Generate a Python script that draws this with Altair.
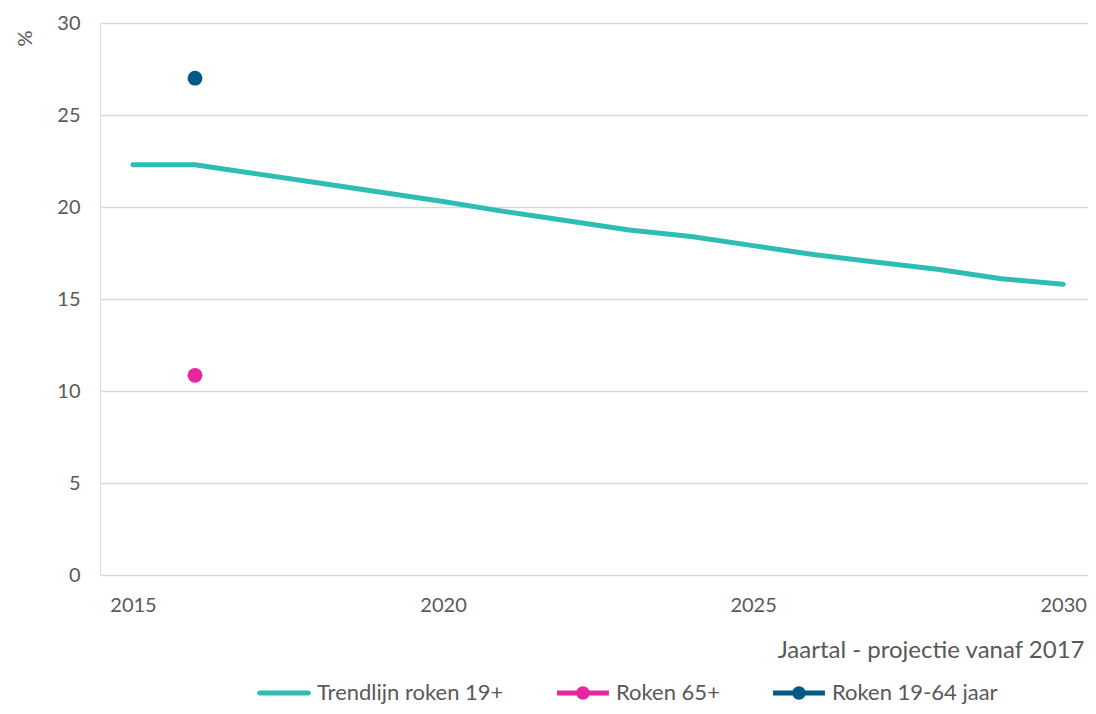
import altair as alt
import pandas as pd

years = list(range(2015, 2031))
trend = [22.3, 22.3, 21.8, 21.3, 20.8, 20.3, 19.75, 19.25, 18.75, 18.4,
         17.9, 17.4, 17.0, 16.6, 16.1, 15.8]

point_years = [2016, 2016]
point_series = ["Roken 65+", "Roken 19-64 jaar"]
point_values = [10.85, 27.0]

series_names = ["Trendlijn roken 19+", "Roken 65+", "Roken 19-64 jaar"]
series_colors = ["#2EBDB2", "#E6259F", "#005A85"]

line_path = "M-0.9,-0.095 H0.9 A0.095,0.095 0 0 1 0.9,0.095 H-0.9 A0.095,0.095 0 0 1 -0.9,-0.095 Z"
dot_path = ("M-0.96,-0.095 H0.96 V0.095 H-0.96 Z "
            "M-0.25,0 A0.25,0.25 0 1 1 0.25,0 A0.25,0.25 0 1 1 -0.25,0 Z")
series_shapes = [line_path, dot_path, dot_path]

FONT = "Lato"
GREY = "#595959"

trend_df = pd.DataFrame({"year": years, "value": trend, "series": series_names[0]})
pts_df = pd.DataFrame({"year": point_years, "value": point_values, "series": point_series})

x = alt.X("year:Q",
          scale=alt.Scale(domain=[2014.468, 2030.40], nice=False, zero=False),
          axis=alt.Axis(values=[2015, 2020, 2025, 2030], format="d", grid=False,
                        ticks=False, tickSize=0, domain=False, labelPadding=20,
                        labelFont=FONT, labelFontSize=20, labelColor=GREY,
                        title="Jaartal - projectie vanaf 2017", titleFont=FONT,
                        titleFontSize=24, titleFontWeight="normal", titleColor=GREY,
                        titleAnchor="end", titleAlign="right", titleBaseline="middle",
                        titleX=984, titleY=75))
y = alt.Y("value:Q",
          scale=alt.Scale(domain=[0, 30], nice=False),
          axis=alt.Axis(values=[0, 5, 10, 15, 20, 25, 30], grid=True, gridColor="#D9D9D9",
                        gridWidth=1.3, ticks=False, tickSize=0, domain=False,
                        labelPadding=20, labelFont=FONT, labelFontSize=20, labelColor=GREY,
                        title="%", titleFont=FONT, titleFontSize=20,
                        titleFontWeight="normal", titleColor=GREY, titleAngle=-90,
                        titleAlign="center", titleBaseline="middle",
                        titleX=-75, titleY=15))

line = alt.Chart(trend_df).mark_line(strokeWidth=5, strokeCap="round",
                                     strokeJoin="round", color=series_colors[0]).encode(x=x, y=y)

dot_layers = []
for name, col in zip(series_names[1:], series_colors[1:]):
    dot_layers.append(
        alt.Chart(pts_df).transform_filter(alt.datum.series == name).mark_point(
            filled=True, shape="circle", size=220, opacity=1, strokeWidth=0, color=col
        ).encode(x=x, y=y))

legend_layer = alt.Chart(pts_df).transform_filter(alt.datum.value < 0).mark_point(
    filled=True).encode(
    x=x, y=y,
    color=alt.Color("series:N", scale=alt.Scale(domain=series_names, range=series_colors),
                    title=None),
    shape=alt.Shape("series:N", scale=alt.Scale(domain=series_names, range=series_shapes),
                    title=None))

chart = alt.layer(line, *dot_layers, legend_layer).properties(
    width=988, height=552,
    autosize=alt.AutoSizeParams(type="none"),
    padding={"left": 92, "top": 15, "right": 0, "bottom": 131},
).configure_view(stroke=None).configure(background="white").configure_legend(
    orient="none", direction="horizontal", columns=3,
    legendX=156, legendY=642,
    symbolSize=2916, symbolOpacity=1,
    labelFont=FONT, labelFontSize=22, labelColor=GREY, labelLimit=0,
    labelOffset=5, columnPadding=50)

chart.save("out.html", embed_options={"renderer": "svg", "actions": False})
